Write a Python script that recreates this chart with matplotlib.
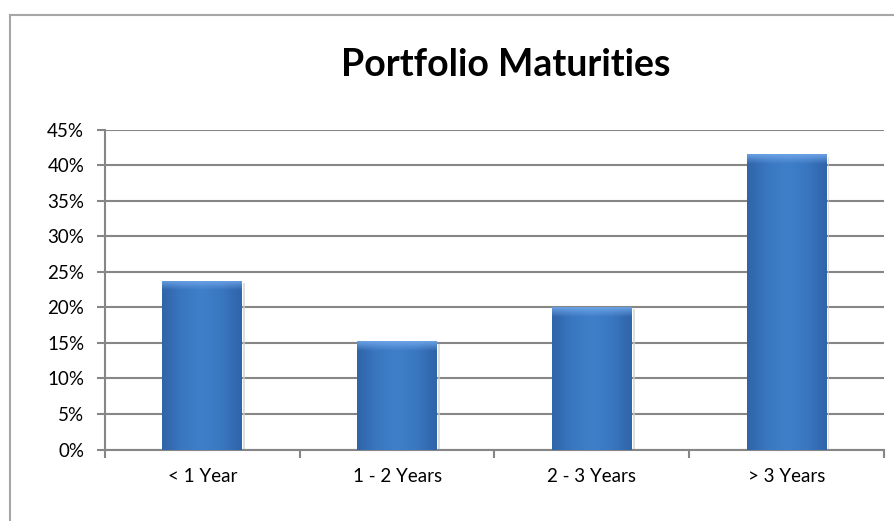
import numpy as np
import matplotlib.pyplot as plt
from matplotlib.lines import Line2D
from matplotlib.colors import LinearSegmentedColormap

categories = ['< 1 Year', '1 - 2 Years', '2 - 3 Years', '> 3 Years']
shares = [23.7, 15.2, 20.0, 41.5]  # percent of portfolio
yticks = [0, 5, 10, 15, 20, 25, 30, 35, 40, 45]
ytick_labels = ['0%', '5%', '10%', '15%', '20%', '25%', '30%', '35%', '40%', '45%']

plt.rcParams['font.family'] = ['Lato', 'DejaVu Sans']

fig = plt.figure(figsize=(8.95, 5.21), dpi=100)
ax = fig.add_axes([0.1173, 0.1372, 0.8704, 0.6142])

grid_col = '#868686'
x = np.arange(len(categories))
bars = ax.bar(x, shares, width=0.41, color='#3b78c0', zorder=3)

# soft horizontal gradient, clipped to each bar
blue = LinearSegmentedColormap.from_list(
    'bar', ['#2f64a8', '#3a77c1', '#3f7fca', '#3a77c1', '#2f64a8'])
grad = np.tile(np.linspace(0, 1, 200), (200, 1))
# top bevel: light blue fading out downwards
bevel = np.zeros((50, 1, 4))
bevel[:, 0, :3] = [0.45, 0.66, 0.92]
bevel[:, 0, 3] = np.linspace(0.9, 0.0, 50)
for b in bars:
    x0, y0 = b.get_x(), b.get_y()
    w, h = b.get_width(), b.get_height()
    # soft shadow on the right
    ax.bar(x0 + w + 0.005, h - 0.3, width=0.01, bottom=0, align='edge',
           color='#d0d0d0', alpha=0.7, zorder=2)
    im = ax.imshow(grad, cmap=blue, aspect='auto',
                   extent=(x0, x0 + w, y0, y0 + h), zorder=4)
    im.set_clip_path(b)
    bv = ax.imshow(bevel, aspect='auto', interpolation='bilinear',
                   extent=(x0, x0 + w, h - 1.3, h), zorder=5)
    bv.set_clip_path(b)

ax.set_xlim(-0.5, len(categories) - 0.5)
ax.set_ylim(0, 45)
ax.set_yticks(yticks)
ax.set_yticklabels(ytick_labels, fontsize=13.5)
ax.set_xticks(x)
ax.set_xticklabels(categories, fontsize=13.5)
ax.set_xticks(np.arange(len(categories) + 1) - 0.5, minor=True)
ax.tick_params(axis='x', which='major', length=0, pad=13)
ax.tick_params(axis='x', which='minor', length=6, width=1.5, color=grid_col)
ax.tick_params(axis='y', length=6, width=1.5, color=grid_col, pad=9)

ax.yaxis.grid(True, color=grid_col, linewidth=1.5, zorder=1)
ax.set_axisbelow(True)
for s in ['top', 'right']:
    ax.spines[s].set_visible(False)
for s in ['left', 'bottom']:
    ax.spines[s].set_color(grid_col)
    ax.spines[s].set_linewidth(1.5)

fig.text(0.565, 0.876, 'Portfolio Maturities', ha='center', va='center',
         fontsize=27, fontweight='bold')

# chart frame (cropped on right and bottom)
fx, fy = 10.5 / 895, 1 - 14.5 / 521
fig.add_artist(Line2D([fx, fx], [0, fy], color='#a6a6a6', lw=1.5))
fig.add_artist(Line2D([fx, 1], [fy, fy], color='#a6a6a6', lw=1.5))

fig.savefig('out.png', dpi=100)
